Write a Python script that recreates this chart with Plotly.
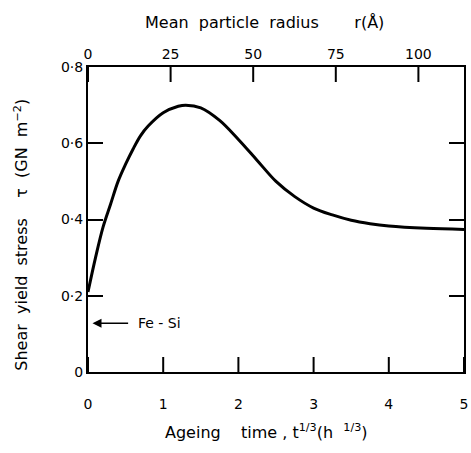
import plotly.graph_objects as go

# Ageing time t^(1/3) (h^(1/3)) and shear yield stress tau (GN m^-2)
t13 = [0.0, 0.1, 0.2, 0.3, 0.4, 0.5, 0.6, 0.7, 0.8, 1.0, 1.2, 1.3, 1.5, 1.75,
       2.0, 2.25, 2.5, 2.75, 3.0, 3.25, 3.5, 3.75, 4.0, 4.5, 5.0]
tau = [0.21, 0.30, 0.38, 0.44, 0.50, 0.545, 0.585, 0.62, 0.645, 0.68, 0.697, 0.70,
       0.693, 0.66, 0.61, 0.555, 0.50, 0.46, 0.43, 0.412, 0.398, 0.389, 0.383,
       0.377, 0.374]

x_ticks = [0, 1, 2, 3, 4, 5]
x_ticklabels = ["0", "1", "2", "3", "4", "5"]
y_ticks = [0, 0.2, 0.4, 0.6, 0.8]
y_ticklabels = ["0", "0·2", "0·4", "0·6", "0·8"]
r_ticks = [0, 25, 50, 75, 100]
r_max = 113.8
y_range = [0, 0.8]

FONT = "DejaVu Sans"
W, H = 471, 453
M = dict(l=88, r=3, t=67, b=81)
plot_h = H - M["t"] - M["b"]
plot_w = W - M["l"] - M["r"]
tick_len = 15 * (y_range[1] - y_range[0]) / plot_h  # 15 px expressed on the y scale


def tick_path(vals, y0, dy):
    xs, ys = [], []
    for v in vals:
        xs += [v, v, None]
        ys += [y0, y0 + dy, None]
    return xs, ys


fig = go.Figure()
fig.add_trace(go.Scatter(x=t13, y=tau, mode="lines",
                         line=dict(color="black", width=3, shape="spline"),
                         showlegend=False, hoverinfo="skip"))
bx, by = tick_path(x_ticks, y_range[0], tick_len)
fig.add_trace(go.Scatter(x=bx, y=by, mode="lines", line=dict(color="black", width=2),
                         showlegend=False, hoverinfo="skip"))
tx, ty = tick_path(r_ticks, y_range[1], -tick_len)
fig.add_trace(go.Scatter(x=tx, y=ty, xaxis="x2", mode="lines",
                         line=dict(color="black", width=2),
                         showlegend=False, hoverinfo="skip"))

fig.update_layout(
    width=W, height=H, margin=M,
    paper_bgcolor="white", plot_bgcolor="white",
    font=dict(family=FONT, size=14, color="black"),
    xaxis=dict(range=[0, 5], tickmode="array", tickvals=x_ticks,
               ticktext=["<br>" + s for s in x_ticklabels],
               showline=True, linecolor="black", linewidth=2, ticks="",
               showgrid=False, zeroline=False),
    xaxis2=dict(range=[0, r_max], tickmode="array", tickvals=r_ticks,
                overlaying="x", side="top", anchor="y",
                showline=True, linecolor="black", linewidth=2, ticks="",
                showgrid=False, zeroline=False),
    yaxis=dict(range=y_range, tickmode="array", tickvals=y_ticks, ticktext=y_ticklabels,
               ticksuffix="  ",
               showline=True, linecolor="black", linewidth=2, mirror="ticks",
               ticks="inside", ticklen=15, tickwidth=2, tickcolor="black",
               showgrid=False, zeroline=False),
)

fig.add_annotation(x=(266 - 88) / plot_w, xref="paper", y=1 + (67 - 22) / plot_h,
                   yref="paper", yanchor="middle", xanchor="center", showarrow=False,
                   text="Mean  particle  radius       r(Å)",
                   font=dict(family=FONT, size=16))
fig.add_annotation(x=(268 - 88) / plot_w, xref="paper", y=-(431 - 372) / plot_h,
                   yref="paper", yanchor="middle", xanchor="center", showarrow=False,
                   text="Ageing    time , t<sup>1/3</sup>(h  <sup>1/3</sup>)",
                   font=dict(family=FONT, size=16))
fig.add_annotation(x=-(88 - 20) / plot_w, xref="paper", y=(372 - 235) / plot_h,
                   yref="paper", textangle=-90, xanchor="center", yanchor="middle",
                   showarrow=False,
                   text="Shear  yield  stress    τ  (GN  m<sup>−2</sup>)",
                   font=dict(family=FONT, size=16))
fig.add_annotation(x=0.06, y=0.128, xref="x", yref="y",
                   ax=0.58, ay=0.128, axref="x", ayref="y",
                   showarrow=True, arrowhead=2, arrowsize=1.2, arrowwidth=1.5,
                   arrowcolor="black", text=" ")
fig.add_annotation(x=0.64, y=0.128, xref="x", yref="y", xanchor="left",
                   showarrow=False, text="Fe - Si", font=dict(family=FONT, size=14))

fig.write_html("out.html")
